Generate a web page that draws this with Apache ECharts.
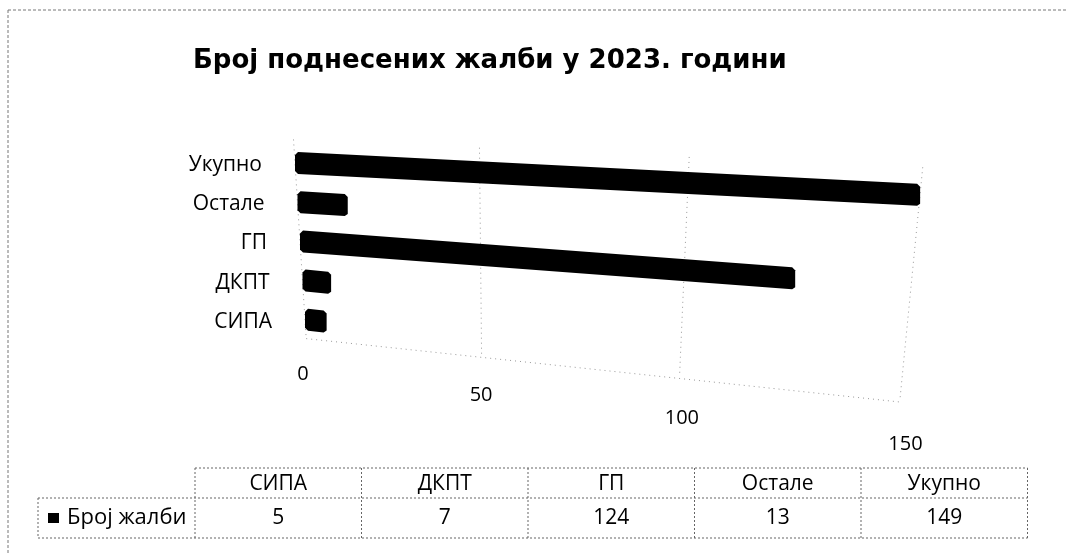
<!DOCTYPE html>
<html>
<head>
<meta charset="utf-8">
<script src="https://cdn.jsdelivr.net/npm/echarts@6/dist/echarts.min.js"></script>
<style>
  html, body { margin: 0; padding: 0; background: #fff; }
  #chart { width: 1067px; height: 554px; }
</style>
</head>
<body>
<div id="chart"></div>
<script>
// podaci
const categories = ['СИПА', 'ДКПТ', 'ГП', 'Остале', 'Укупно']
const complaints = [5, 7, 124, 13, 149]
const valueTicks = [0, 50, 100, 150]
const seriesName = 'Број жалби'
const titleText = 'Број поднесених жалби у 2023. години'

const font = 'Open Sans'

// 3D perspektiva (Excel "3-D bar"): w = 0 gornji red, 1 donji red
function project(cs, px, w, topY, botY) {
  const u = (px - cs.x) / cs.width
  const g = 0.83 * u + 0.17 * u * u
  return [
    cs.x + 10 * w + g * cs.width * (1 - 0.045 * w),
    topY + w * (botY - topY) + (32 + 28 * w) * g
  ]
}

function rowLimits(api) {
  return [api.coord([0, categories.length - 1])[1], api.coord([0, 0])[1]]
}

function renderGrid(params, api) {
  const cs = params.coordSys
  const v = api.value(0)
  const px = api.coord([v, 0])[0]
  const [topY, botY] = rowLimits(api)
  const pts = []
  for (let w = -0.15; w <= 1.121; w += 0.05) pts.push(project(cs, px, w, topY, botY))
  const children = [{
    type: 'polyline',
    shape: { points: pts },
    style: { stroke: '#999', lineWidth: 1, lineDash: [1, 4], fill: null }
  }]
  const ly = project(cs, px, 1.35, topY, botY)[1]
  const lx = project(cs, px, 0.8, topY, botY)[0]
  children.push({
    type: 'text',
    style: { text: String(v), x: lx, y: ly, fill: '#000', fontSize: 20, fontFamily: font, align: 'center', verticalAlign: 'middle' }
  })
  // prednja ivica poda
  if (params.dataIndex === 0) {
    const edge = []
    const x0 = api.coord([valueTicks[0], 0])[0]
    const x1 = api.coord([valueTicks[valueTicks.length - 1], 0])[0]
    for (let i = 0; i <= 20; i++) edge.push(project(cs, x0 + (x1 - x0) * i / 20, 1.12, topY, botY))
    children.push({
      type: 'polyline',
      shape: { points: edge },
      style: { stroke: '#999', lineWidth: 1, lineDash: [1, 4], fill: null }
    })
  }
  return { type: 'group', children }
}

function renderBar(params, api) {
  const cs = params.coordSys
  const idx = api.value(1)
  const [topY, botY] = rowLimits(api)
  const w = (categories.length - 1 - idx) / (categories.length - 1)
  const s = project(cs, api.coord([0, idx])[0], w, topY, botY)
  const e = project(cs, api.coord([api.value(0), idx])[0], w, topY, botY)
  const h = 22
  const points = [
    [s[0], s[1] - h / 2 + 3],
    [s[0] + 3, s[1] - h / 2],
    [e[0] + 2, e[1] - h / 2],
    [e[0] + 5, e[1] - h / 2 + 3],
    [e[0] + 5, e[1] + h / 2 - 2],
    [e[0] + 2, e[1] + h / 2],
    [s[0] + 3, s[1] + h / 2],
    [s[0], s[1] + h / 2 - 3]
  ]
  return {
    type: 'group',
    children: [
      { type: 'polygon', shape: { points }, style: { fill: '#000' } },
      {
        type: 'text',
        style: { text: categories[idx], x: s[0] - 33, y: s[1] + 2, fill: '#000', fontSize: 21, fontFamily: font, align: 'right', verticalAlign: 'middle' }
      }
    ]
  }
}

// tabela sa podacima
function buildTable() {
  const left = 195, colW = 166.5, top = 468, mid = 498, bot = 538, labLeft = 38
  const right = left + colW * categories.length
  const dotted = { stroke: '#666', lineWidth: 1, lineDash: [2, 2] }
  const els = []
  els.push({ type: 'line', shape: { x1: left, y1: top, x2: right, y2: top }, style: dotted })
  els.push({ type: 'line', shape: { x1: labLeft, y1: mid, x2: right, y2: mid }, style: dotted })
  els.push({ type: 'line', shape: { x1: labLeft, y1: bot, x2: right, y2: bot }, style: dotted })
  els.push({ type: 'line', shape: { x1: labLeft, y1: mid, x2: labLeft, y2: bot }, style: dotted })
  for (let k = 0; k <= categories.length; k++) {
    const x = left + colW * k
    els.push({ type: 'line', shape: { x1: x, y1: top, x2: x, y2: bot }, style: dotted })
  }
  categories.forEach((c, k) => {
    const cx = left + colW * k + colW / 2
    els.push({ type: 'text', style: { text: c, x: cx, y: 484, fill: '#000', fontSize: 21, fontFamily: font, align: 'center', verticalAlign: 'middle' } })
    els.push({ type: 'text', style: { text: String(complaints[k]), x: cx, y: 518, fill: '#000', fontSize: 21, fontFamily: font, align: 'center', verticalAlign: 'middle' } })
  })
  els.push({ type: 'rect', shape: { x: 48, y: 513, width: 11, height: 10 }, style: { fill: '#000' } })
  els.push({ type: 'text', style: { text: seriesName, x: 67, y: 518, fill: '#000', fontSize: 22, fontFamily: font, align: 'left', verticalAlign: 'middle' } })
  // okvir grafikona
  els.push({ type: 'line', shape: { x1: 8, y1: 10, x2: 1067, y2: 10 }, style: { stroke: '#777', lineWidth: 1, lineDash: [3, 2] } })
  els.push({ type: 'line', shape: { x1: 8, y1: 10, x2: 8, y2: 554 }, style: { stroke: '#777', lineWidth: 1, lineDash: [3, 2] } })
  return els
}

const chart = echarts.init(document.getElementById('chart'))
chart.setOption({
  animation: false,
  backgroundColor: '#fff',
  title: {
    text: titleText,
    left: 188,
    top: 43,
    textStyle: { fontFamily: 'DejaVu Sans', fontWeight: 'bold', fontSize: 26, color: '#000' }
  },
  grid: { left: 295, right: 147, top: 143.4, bottom: 214.6 },
  xAxis: { type: 'value', min: 0, max: 150, interval: 50, show: false },
  yAxis: { type: 'category', data: categories, show: false },
  series: [
    {
      type: 'custom',
      name: 'mreza',
      renderItem: renderGrid,
      data: valueTicks.map(v => [v, 0]),
      z: 1,
      silent: true
    },
    {
      type: 'custom',
      name: seriesName,
      renderItem: renderBar,
      encode: { x: 0, y: 1 },
      data: complaints.map((v, i) => [v, i]),
      z: 2
    }
  ],
  graphic: buildTable()
})
</script>
</body>
</html>
